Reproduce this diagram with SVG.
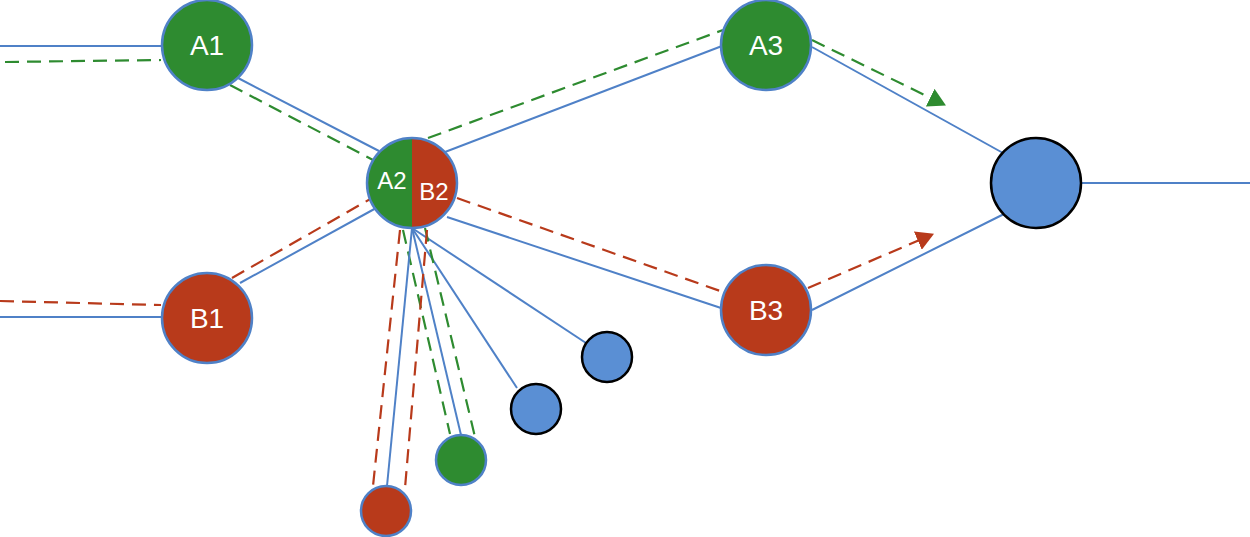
<svg xmlns="http://www.w3.org/2000/svg" width="1250" height="537" viewBox="0 0 1250 537">
<style>
.b{stroke:#4f81c7;stroke-width:2;fill:none}
.gd{stroke:#2e8b30;stroke-width:2.2;fill:none;stroke-dasharray:14 8}
.rd{stroke:#b83a1b;stroke-width:2.2;fill:none;stroke-dasharray:14 8}
.g{fill:#2e8b30;stroke:#4f81c7;stroke-width:2.5}
.r{fill:#b83a1b;stroke:#4f81c7;stroke-width:2.5}
.bl{fill:#5a8fd4;stroke:#000;stroke-width:2.5}
.t{font-family:"Liberation Sans",Arial,sans-serif;fill:#fff;text-anchor:middle}
</style>
<defs>
<marker id="ag" markerWidth="9" markerHeight="9" refX="6.5" refY="4.5" orient="auto" markerUnits="strokeWidth"><path d="M0,0 L8,4.5 L0,9 Z" fill="#2e8b30"/></marker>
<marker id="ar" markerWidth="9" markerHeight="9" refX="6.5" refY="4.5" orient="auto" markerUnits="strokeWidth"><path d="M0,0 L8,4.5 L0,9 Z" fill="#b83a1b"/></marker>
</defs>
<g id="connectors">
<line class="b" x1="0" y1="46" x2="162" y2="46"/>
<line class="gd" x1="5" y1="62" x2="161" y2="60"/>
<line class="b" x1="238" y1="78" x2="379" y2="151"/>
<line class="gd" x1="230" y1="85" x2="373" y2="160"/>
<line class="b" x1="445" y1="152" x2="722" y2="46"/>
<line class="gd" x1="428" y1="138" x2="723" y2="30"/>
<line class="b" x1="812" y1="47" x2="1003" y2="153"/>
<line class="gd" x1="812" y1="40" x2="943" y2="104" marker-end="url(#ag)"/>
<line class="b" x1="240" y1="283" x2="378" y2="207"/>
<line class="rd" x1="232" y1="278" x2="372" y2="198"/>
<line class="rd" x1="0" y1="301" x2="161" y2="305"/>
<line class="b" x1="0" y1="317" x2="162" y2="317"/>
<line class="rd" x1="457" y1="198" x2="723" y2="292"/>
<line class="b" x1="447" y1="217" x2="721" y2="308"/>
<line class="b" x1="812" y1="310" x2="1004" y2="214"/>
<line class="rd" x1="808" y1="288" x2="931" y2="235" marker-end="url(#ar)"/>
<line class="b" x1="1082" y1="183" x2="1250" y2="183"/>
<line class="b" x1="412" y1="228" x2="586" y2="343"/>
<line class="b" x1="412" y1="228" x2="517" y2="388"/>
<line class="b" x1="412" y1="228" x2="461" y2="435"/>
<line class="gd" x1="403" y1="230" x2="450" y2="434"/>
<line class="gd" x1="425" y1="228" x2="475" y2="437"/>
<line class="b" x1="412" y1="228" x2="387" y2="486"/>
<line class="rd" x1="400" y1="230" x2="373" y2="486"/>
<line class="rd" x1="427" y1="230" x2="405" y2="488"/>
</g>
<g id="A1"><circle class="g" cx="207" cy="45" r="45"/><text class="t" x="207" y="55" font-size="28">A1</text></g>
<g id="A2B2">
<path d="M412,138 A45,45 0 0 0 412,228 Z" fill="#2e8b30"/>
<path d="M412,138 A45,45 0 0 1 412,228 Z" fill="#b83a1b"/>
<circle cx="412" cy="183" r="45" fill="none" stroke="#4f81c7" stroke-width="2.5"/>
<text class="t" x="392" y="189" font-size="24">A2</text>
<text class="t" x="434" y="200" font-size="24">B2</text>
</g>
<g id="A3"><circle class="g" cx="766" cy="45" r="45"/><text class="t" x="766" y="55" font-size="28">A3</text></g>
<g id="B1"><circle class="r" cx="207" cy="318" r="45"/><text class="t" x="207" y="328" font-size="28">B1</text></g>
<g id="B3"><circle class="r" cx="766" cy="310" r="45"/><text class="t" x="766" y="320" font-size="28">B3</text></g>
<g id="sink"><circle class="bl" cx="1036" cy="183" r="45"/></g>
<g id="s1"><circle class="bl" cx="607" cy="357" r="25"/></g>
<g id="s2"><circle class="bl" cx="536" cy="409" r="25"/></g>
<g id="sg"><circle class="g" cx="461" cy="460" r="25"/></g>
<g id="sr"><circle class="r" cx="386" cy="511" r="25"/></g>
</svg>
